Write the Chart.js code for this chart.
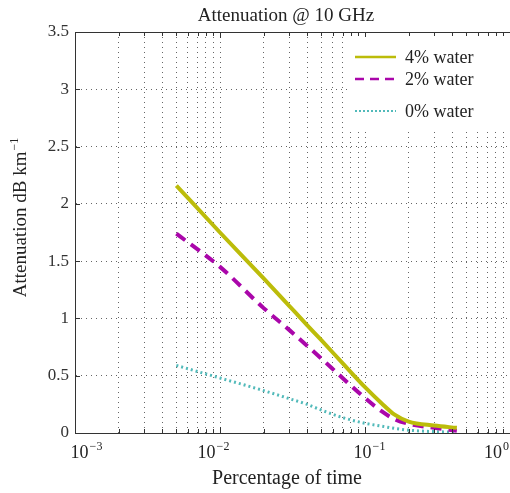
<!DOCTYPE html>
<html>
<head>
<meta charset="utf-8">
<script src="https://cdn.jsdelivr.net/npm/chart.js@4.4.1/dist/chart.umd.min.js"></script>
<style>
  html, body { margin: 0; padding: 0; background: #fff; }
  canvas { display: block; }
</style>
</head>
<body>
<canvas id="attChart" width="510" height="493"></canvas>
<script>
// percentage of time (x, log scale)
const timePct = [0.005, 0.01, 0.02, 0.03, 0.04, 0.05, 0.07, 0.1, 0.13, 0.16, 0.2, 0.3, 0.43];
// attenuation dB/km for each water content
const water4 = [2.16, 1.75, 1.35, 1.11, 0.94, 0.81, 0.61, 0.40, 0.26, 0.16, 0.10, 0.065, 0.045];
const water2 = [1.74, 1.45, 1.09, 0.90, 0.76, 0.65, 0.48, 0.305, 0.19, 0.12, 0.08, 0.045, 0.02];
const water0 = [0.59, 0.48, 0.37, 0.30, 0.25, 0.20, 0.135, 0.085, 0.06, 0.04, 0.025, 0.012, 0.008];
const seriesNames = ["4% water", "2% water", "0% water"];
const decadeExps = ["\u22123", "\u22122", "\u22121", "0"];

const SERIF = '"Liberation Serif", "Times New Roman", serif';

// log grid: 1..9 per decade
const gridTicks = [];
for (let e = -3; e < 0; e++) {
  for (let m = 1; m <= 9; m++) gridTicks.push(Number((m * Math.pow(10, e)).toPrecision(3)));
}
gridTicks.push(1);

const toPoints = vals => vals.map((v, i) => ({ x: timePct[i], y: v }));

const decorPlugin = {
  id: "decor",
  afterDraw(chart) {
    const { ctx, chartArea: a, scales: { x, y } } = chart;
    ctx.save();

    // top axis line
    ctx.strokeStyle = "#333";
    ctx.lineWidth = 1;
    ctx.beginPath();
    ctx.moveTo(a.left, a.top + 0.5);
    ctx.lineTo(a.right, a.top + 0.5);
    ctx.stroke();

    // inward tick marks
    ctx.beginPath();
    gridTicks.forEach(v => {
      const px = Math.round(x.getPixelForValue(v)) + 0.5;
      const len = Math.abs(Math.log10(v) - Math.round(Math.log10(v))) < 1e-6 ? 6 : 4;
      ctx.moveTo(px, a.bottom); ctx.lineTo(px, a.bottom - len);
      ctx.moveTo(px, a.top); ctx.lineTo(px, a.top + len);
    });
    y.ticks.forEach(t => {
      const py = Math.round(y.getPixelForValue(t.value)) + 0.5;
      ctx.moveTo(a.left, py); ctx.lineTo(a.left + 5, py);
    });
    ctx.stroke();

    // legend
    ctx.fillStyle = "#fff";
    ctx.fillRect(348, 37, 162, 93);
    const rows = [57, 79, 111];
    chart.data.datasets.forEach((ds, i) => {
      ctx.save();
      ctx.strokeStyle = ds.borderColor;
      ctx.lineWidth = i === 2 ? 2 : 2.5;
      ctx.setLineDash(i === 1 ? [9, 6] : i === 2 ? [2, 2] : []);
      ctx.beginPath();
      ctx.moveTo(355, rows[i]);
      ctx.lineTo(396, rows[i]);
      ctx.stroke();
      ctx.restore();
      ctx.fillStyle = "#222";
      ctx.font = "18px " + SERIF;
      ctx.textAlign = "left";
      ctx.textBaseline = "middle";
      ctx.fillText(seriesNames[i], 405, rows[i] + 1);
    });

    // title
    ctx.fillStyle = "#222";
    ctx.font = "19px " + SERIF;
    ctx.textAlign = "center";
    ctx.textBaseline = "middle";
    ctx.fillText("Attenuation @ 10 GHz", 286, 16);

    // x tick labels 10^n
    const shifts = [11, -7, 4, -14];
    decadeExps.forEach((ex, i) => {
      const px = x.getPixelForValue(Math.pow(10, i - 3)) + shifts[i];
      ctx.font = "18px " + SERIF;
      const bw = ctx.measureText("10").width;
      ctx.font = "12px " + SERIF;
      const ew = ctx.measureText(ex).width;
      const left = px - (bw + ew) / 2;
      ctx.textAlign = "left";
      ctx.textBaseline = "alphabetic";
      ctx.font = "18px " + SERIF;
      ctx.fillText("10", left, 458);
      ctx.font = "12px " + SERIF;
      ctx.fillText(ex, left + bw + 1, 450);
    });

    // x title
    ctx.font = "20px " + SERIF;
    ctx.textAlign = "center";
    ctx.textBaseline = "middle";
    ctx.fillText("Percentage of time", 287, 479);

    // y title
    ctx.translate(20, 218);
    ctx.rotate(-Math.PI / 2);
    ctx.font = "19px " + SERIF;
    const main = "Attenuation dB km";
    const mw = ctx.measureText(main).width;
    ctx.font = "12px " + SERIF;
    const sw = ctx.measureText("\u22121").width;
    const start = -(mw + sw) / 2;
    ctx.textAlign = "left";
    ctx.textBaseline = "alphabetic";
    ctx.font = "19px " + SERIF;
    ctx.fillText(main, start, 6);
    ctx.font = "12px " + SERIF;
    ctx.fillText("\u22121", start + mw + 1, -2);

    ctx.restore();
  }
};

new Chart(document.getElementById("attChart"), {
  type: "line",
  data: {
    datasets: [
      {
        label: seriesNames[0],
        data: toPoints(water4),
        borderColor: "#bcbc0a",
        borderWidth: 4,
        pointRadius: 0,
        cubicInterpolationMode: "monotone"
      },
      {
        label: seriesNames[1],
        data: toPoints(water2),
        borderColor: "#aa06aa",
        borderWidth: 4,
        borderDash: [11, 7],
        pointRadius: 0,
        cubicInterpolationMode: "monotone"
      },
      {
        label: seriesNames[2],
        data: toPoints(water0),
        borderColor: "#52baba",
        borderWidth: 3,
        borderDash: [2, 3],
        pointRadius: 0,
        cubicInterpolationMode: "monotone"
      }
    ]
  },
  options: {
    responsive: false,
    animation: false,
    layout: { padding: { top: 32, right: 0, bottom: 0, left: 0 } },
    plugins: {
      legend: { display: false },
      title: { display: false },
      tooltip: { enabled: false }
    },
    scales: {
      x: {
        type: "logarithmic",
        min: 0.001,
        max: 1,
        afterBuildTicks: s => { s.ticks = gridTicks.map(v => ({ value: v })); },
        afterFit: s => { s.height = 60; s.paddingLeft = 0; s.paddingRight = 0; },
        ticks: { display: false },
        grid: { color: "#666", lineWidth: 1, drawTicks: false },
        border: { display: true, color: "#333", width: 1, dash: [1, 4] }
      },
      y: {
        min: 0,
        max: 3.5,
        afterFit: s => { s.width = 75; },
        ticks: {
          stepSize: 0.5,
          padding: 6,
          color: "#333",
          font: { family: SERIF, size: 17 },
          callback: v => String(Number(v))
        },
        grid: { color: "#666", lineWidth: 1, drawTicks: false },
        border: { display: true, color: "#333", width: 1, dash: [1, 4] }
      }
    }
  },
  plugins: [decorPlugin]
});
</script>
</body>
</html>
